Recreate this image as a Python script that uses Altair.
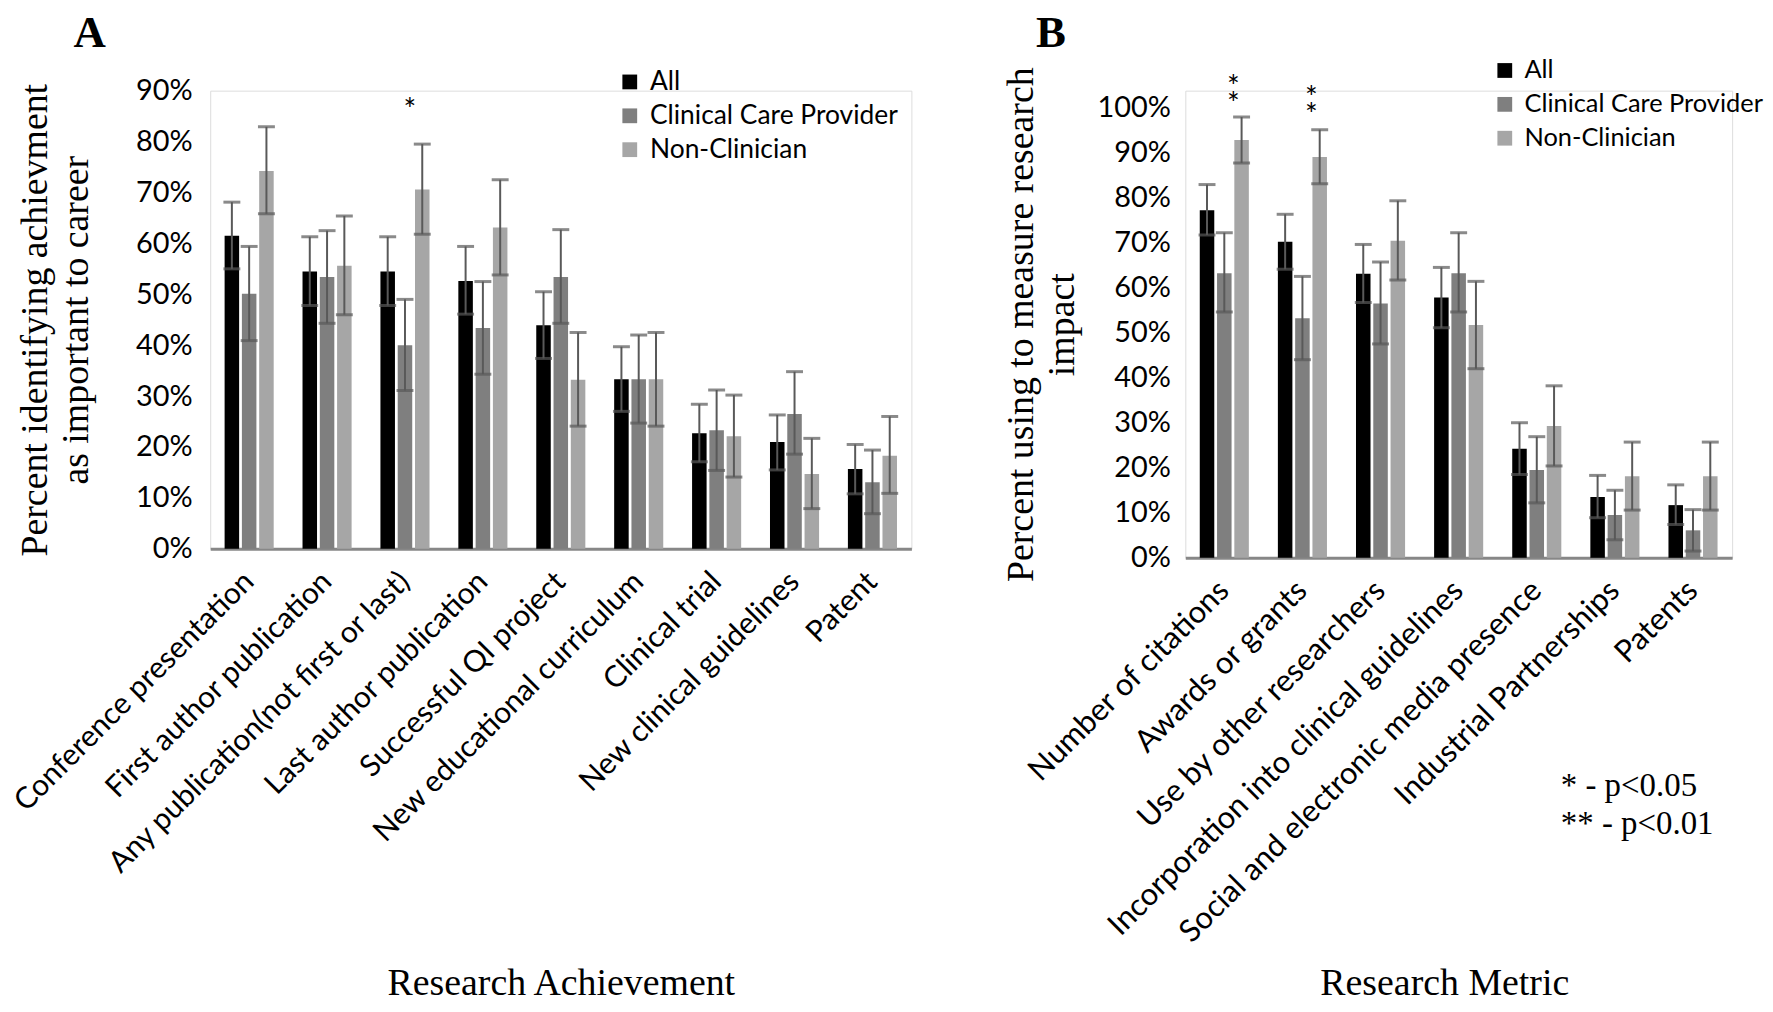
import altair as alt
import pandas as pd

groups = ["All", "Clinical Care Provider", "Non-Clinician"]
bar_colors = ["#000000", "#7f7f7f", "#a6a6a6"]
err_color = "#595959"

# ---------- Panel A data (percent) ----------
a_cats = ["Conference presentation", "First author publication",
          "Any publication(not first or last)", "Last author publication",
          "Successful QI project", "New educational curriculum",
          "Clinical trial", "New clinical guidelines", "Patent"]
a_all = [61.5, 54.5, 54.5, 52.6, 43.9, 33.3, 22.7, 21.0, 15.7]
a_all_hi = [68.1, 61.3, 61.3, 59.4, 50.5, 39.7, 28.4, 26.3, 20.5]
a_all_lo = [55.0, 47.8, 47.8, 46.1, 37.4, 27.0, 17.1, 15.5, 10.8]
a_ccp = [50.1, 53.4, 40.0, 43.4, 53.4, 33.3, 23.3, 26.5, 13.1]
a_ccp_hi = [59.4, 62.5, 49.0, 52.5, 62.7, 42.0, 31.2, 34.8, 19.4]
a_ccp_lo = [40.9, 44.3, 31.1, 34.3, 44.3, 24.7, 15.4, 18.6, 6.9]
a_nc = [74.2, 55.6, 70.6, 63.1, 33.2, 33.3, 22.1, 14.7, 18.3]
a_nc_hi = [82.9, 65.4, 79.5, 72.5, 42.5, 42.5, 30.2, 21.7, 26.0]
a_nc_lo = [65.8, 46.0, 61.8, 53.8, 24.1, 24.1, 14.1, 7.9, 10.9]
a_star_cats = ["Any publication(not first or last)"]
a_star_vals = [86.0]
a_star_text = ["*"]
a_ticks = [0, 10, 20, 30, 40, 50, 60, 70, 80, 90]

# ---------- Panel B data (percent) ----------
b_cats = ["Number of citations", "Awards or grants", "Use by other researchers",
          "Incorporation into clinical guidelines",
          "Social and electronic media presence", "Industrial Partnerships",
          "Patents"]
b_all = [77.2, 70.2, 63.1, 57.8, 24.2, 13.5, 11.7]
b_all_hi = [82.9, 76.3, 69.6, 64.5, 30.0, 18.3, 16.2]
b_all_lo = [71.7, 64.1, 56.7, 51.1, 18.5, 8.9, 7.4]
b_ccp = [63.2, 53.2, 56.5, 63.2, 19.5, 9.5, 6.1]
b_ccp_hi = [72.2, 62.5, 65.7, 72.2, 26.9, 15.0, 10.7]
b_ccp_lo = [54.6, 44.0, 47.5, 54.6, 12.2, 4.0, 1.5]
b_nc = [92.8, 89.0, 70.4, 51.7, 29.3, 18.1, 18.1]
b_nc_hi = [97.9, 95.1, 79.3, 61.4, 38.2, 25.7, 25.7]
b_nc_lo = [87.7, 83.1, 61.7, 42.0, 20.4, 10.6, 10.6]
b_star_cats = ["Number of citations", "Awards or grants"]
b_star_vals = [104.3, 101.9]
b_star_text = ["*\n*", "*\n*"]
b_ticks = [0, 10, 20, 30, 40, 50, 60, 70, 80, 90, 100]

SERIF = "Liberation Serif"
SANS = "Lato"


def long_df(cats, series):
    rows = []
    for g, (v, hi, lo) in zip(groups, series):
        for c, a, b, d in zip(cats, v, hi, lo):
            rows.append({"cat": c, "grp": g, "val": a / 100, "hi": b / 100, "lo": d / 100})
    return pd.DataFrame(rows)


def panel(cats, series, star_cats, star_vals, star_text, ticks, width, height, ymax,
          ytitle, xtitle, x_title_y, x_title_x, letter, letter_xy, legend_xy, legend_size,
          label_pad, title_pad, xlabel_size, star_dx, extra=None):
    df = long_df(cats, series)
    xaxis_kw = dict(title=xtitle, labelAngle=-45, labelFont=SANS, labelFontSize=xlabel_size,
                    labelColor="#000000", labelLimit=700, labelPadding=28,
                    labelAlign="right", labelBaseline="middle",
                    ticks=False, domainColor="#878787", domainWidth=3,
                    titleFont=SERIF, titleFontSize=38, titleFontWeight="normal",
                    titleColor="#000000", titleY=x_title_y, titleBaseline="alphabetic")
    if x_title_x is not None:
        xaxis_kw["titleX"] = x_title_x
    xaxis = alt.Axis(**xaxis_kw)
    xenc = alt.X("cat:N", sort=cats, axis=xaxis,
                 scale=alt.Scale(paddingInner=0.37, paddingOuter=0.185))
    xoff = alt.XOffset("grp:N", sort=groups,
                       scale=alt.Scale(domain=groups, paddingInner=0.16, paddingOuter=0))
    yaxis = alt.Axis(title=ytitle, values=[t / 100 for t in ticks], format="%",
                     labelFont=SANS, labelFontSize=29, labelColor="#000000",
                     labelPadding=label_pad, domain=False, ticks=False, grid=False,
                     titleFont=SERIF, titleFontSize=38, titleFontWeight="normal",
                     titleColor="#000000", titleLineHeight=41, titlePadding=title_pad)
    yscale = alt.Scale(domain=[0, ymax], nice=False, zero=True)

    base = alt.Chart(df)
    bars = base.mark_bar().encode(
        x=xenc, xOffset=xoff,
        y=alt.Y("val:Q", scale=yscale, axis=yaxis),
        color=alt.Color("grp:N", sort=groups,
                        scale=alt.Scale(domain=groups, range=bar_colors),
                        legend=alt.Legend(title=None, orient="none",
                                          legendX=legend_xy[0], legendY=legend_xy[1],
                                          labelFont=SANS, labelFontSize=legend_size,
                                          labelColor="#000000", labelLimit=400,
                                          symbolType="square", symbolSize=220,
                                          symbolStrokeWidth=0, rowPadding=7,
                                          labelOffset=7, padding=0)),
    )
    rules = base.mark_rule(color=err_color, strokeWidth=2).encode(
        x=xenc, xOffset=xoff,
        y=alt.Y("lo:Q", scale=yscale, axis=yaxis), y2="hi:Q")
    cap_hi = base.mark_tick(color=err_color, thickness=3, size=17).encode(
        x=xenc, xOffset=xoff, y=alt.Y("hi:Q", scale=yscale, axis=yaxis))
    cap_lo = base.mark_tick(color=err_color, thickness=3, size=17).encode(
        x=xenc, xOffset=xoff, y=alt.Y("lo:Q", scale=yscale, axis=yaxis))

    star_df = pd.DataFrame({"cat": star_cats, "grp": ["Clinical Care Provider"] * len(star_cats),
                            "val": [v / 100 for v in star_vals], "t": star_text})
    stars = alt.Chart(star_df).mark_text(font=SANS, fontSize=30, dx=star_dx, baseline="middle",
                                         lineBreak="\n", lineHeight=17,
                                         color="#000000").encode(
        x=xenc, xOffset=xoff, y=alt.Y("val:Q", scale=yscale, axis=yaxis), text="t:N")

    let = alt.Chart(pd.DataFrame({"t": [letter]})).mark_text(
        font=SERIF, fontSize=45, fontWeight="bold", align="center", baseline="top",
        color="#000000").encode(x=alt.value(letter_xy[0]), y=alt.value(letter_xy[1]), text="t:N")

    layers = [bars, rules, cap_hi, cap_lo, stars, let]
    if extra is not None:
        layers.append(extra)
    return alt.layer(*layers).properties(width=width, height=height)


sig_df = pd.DataFrame({"t": ["* - p<0.05\n** - p<0.01"]})
sig = alt.Chart(sig_df).mark_text(font=SERIF, fontSize=33, align="left",
                                  baseline="alphabetic", lineBreak="\n", lineHeight=38,
                                  color="#000000").encode(
    x=alt.value(377), y=alt.value(708), text="t:N")

pa = panel(a_cats, [(a_all, a_all_hi, a_all_lo), (a_ccp, a_ccp_hi, a_ccp_lo), (a_nc, a_nc_hi, a_nc_lo)],
           a_star_cats, a_star_vals, a_star_text, a_ticks, 704, 460, 0.9,
           ["Percent identifying achievment", "as important to career"],
           "Research Achievement", 447, None, "A", (-121, -80), (408, -22), 26.5,
           18, 40, 30, 5)

pb = panel(b_cats, [(b_all, b_all_hi, b_all_lo), (b_ccp, b_ccp_hi, b_ccp_lo), (b_nc, b_nc_hi, b_nc_lo)],
           b_star_cats, b_star_vals, b_star_text, b_ticks, 549, 469, 1.0376,
           ["Percent using to measure research", "impact"],
           "Research Metric", 438, 260, "B", (-135, -80), (308, -33), 25.5,
           15, 16, 31, 9, extra=sig)

chart = alt.hconcat(pa, pb, spacing=89).resolve_scale(color="independent").properties(
    padding={"left": 0, "top": 0, "right": 0, "bottom": 0}
).configure_view(strokeWidth=0).configure(background="white")

chart.save("out.html", embed_options={"renderer": "svg", "actions": False})
